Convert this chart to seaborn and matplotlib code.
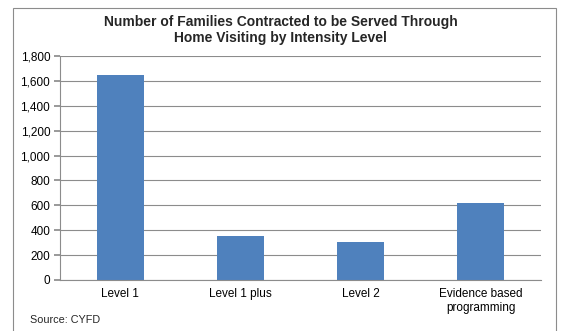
import matplotlib
matplotlib.use("Agg")
import matplotlib.pyplot as plt
import seaborn as sns
import pandas as pd
from matplotlib.patches import Rectangle
from matplotlib.ticker import FuncFormatter

categories = ["Level 1", "Level 1 plus", "Level 2", "Evidence based\nprogramming"]
families = [1645, 350, 305, 615]
y_ticks = [0, 200, 400, 600, 800, 1000, 1200, 1400, 1600, 1800]

sns.set_theme(style="white")
plt.rcParams["font.family"] = ["Liberation Sans", "DejaVu Sans"]

df = pd.DataFrame({"category": categories, "families": families})

fig = plt.figure(figsize=(5.61, 3.31), dpi=100)
ax = fig.add_axes([60 / 561, 1 - 280 / 331, (541 - 60) / 561, (280 - 56) / 331])

sns.barplot(data=df, x="category", y="families", color="#4f81bd",
            saturation=1, width=0.39, linewidth=0, ax=ax)

ax.set_ylim(0, 1800)
ax.set_yticks(y_ticks)
ax.yaxis.set_major_formatter(FuncFormatter(lambda v, p: f"{int(v):,}"))
ax.grid(axis="y", color="#8c8c8c", linewidth=0.8)
ax.set_axisbelow(True)
ax.set_xlabel("")
ax.set_ylabel("")
for s in ["top", "right"]:
    ax.spines[s].set_visible(False)
for s in ["left", "bottom"]:
    ax.spines[s].set_color("#8c8c8c")
    ax.spines[s].set_linewidth(0.8)
ax.tick_params(axis="y", labelsize=8.5, colors="black", length=4, color="#8c8c8c",
               direction="out", left=True, pad=3)
ax.tick_params(axis="x", labelsize=8.5, colors="black", length=0, pad=6)

fig.text(0.5, 1 - 30 / 331, "Number of Families Contracted to be Served Through\nHome Visiting by Intensity Level",
         ha="center", va="center", fontsize=10, fontweight="bold", linespacing=1.15)
fig.text(30 / 561, 1 - 320 / 331, "Source: CYFD", ha="left", va="center", fontsize=7.8)

fig.patches.append(Rectangle((13 / 561, -0.01), (556 - 13) / 561, 1 - 8 / 331 + 0.01,
                             transform=fig.transFigure, fill=False,
                             edgecolor="#8c8c8c", linewidth=0.8))

fig.savefig("out.png", dpi=100)
